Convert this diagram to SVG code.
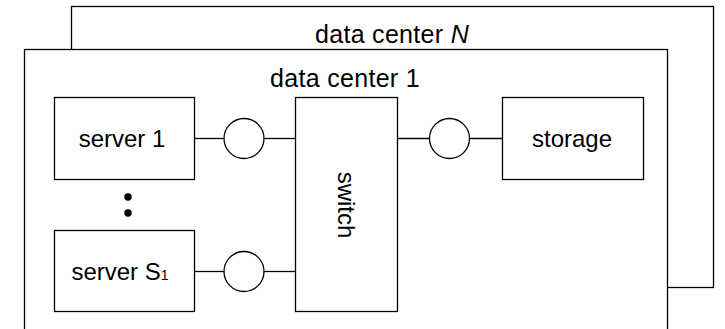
<svg xmlns="http://www.w3.org/2000/svg" width="725" height="329" viewBox="0 0 725 329">
<style>
.box{fill:#fff;stroke:#000;stroke-width:1.3}
.lbl{font-family:"Liberation Sans",Arial,Helvetica,sans-serif;font-size:24px;fill:#000;text-anchor:middle}
.dc{font-family:"Liberation Sans",Arial,Helvetica,sans-serif;font-size:25px;letter-spacing:0.3px;fill:#000;text-anchor:middle}
.ln{stroke:#000;stroke-width:1.3;fill:none}
</style>
<rect width="725" height="329" fill="#fff"/>
<g id="dcN">
<rect class="box" x="71.5" y="6.5" width="642" height="281"/>
<text class="dc" x="392" y="43">data center <tspan font-style="italic">N</tspan></text>
</g>
<g id="dc1">
<rect class="box" x="24.5" y="49.5" width="643" height="300"/>
<text class="dc" x="345" y="87">data center 1</text>
</g>
<g id="server1">
<rect class="box" x="54.5" y="97.5" width="140" height="82"/>
<text class="lbl" x="122" y="147">server 1</text>
</g>
<g id="dots">
<circle cx="128" cy="197" r="3.7" fill="#000"/>
<circle cx="128" cy="213" r="3.7" fill="#000"/>
</g>
<g id="serverS1">
<rect class="box" x="54.5" y="230.5" width="140" height="81"/>
<text class="lbl" x="120" y="280">server S<tspan font-size="14">1</tspan></text>
</g>
<g id="switch">
<rect class="box" x="295.5" y="97.5" width="102" height="214"/>
<text class="lbl" transform="translate(338,205) rotate(90)" x="0" y="0">switch</text>
</g>
<g id="storage">
<rect class="box" x="502.5" y="97.5" width="141" height="82"/>
<text class="lbl" x="572" y="147">storage</text>
</g>
<g id="connectors">
<line class="ln" x1="194.5" y1="138.5" x2="224" y2="138.5"/>
<circle class="ln" cx="244" cy="138.5" r="20"/>
<line class="ln" x1="264" y1="138.5" x2="295.5" y2="138.5"/>
<line class="ln" x1="194.5" y1="271.5" x2="224" y2="271.5"/>
<circle class="ln" cx="244" cy="271.5" r="20"/>
<line class="ln" x1="264" y1="271.5" x2="295.5" y2="271.5"/>
<line class="ln" x1="397.5" y1="138.5" x2="429.5" y2="138.5"/>
<circle class="ln" cx="449.5" cy="138.5" r="20"/>
<line class="ln" x1="469.5" y1="138.5" x2="502.5" y2="138.5"/>
</g>
</svg>
